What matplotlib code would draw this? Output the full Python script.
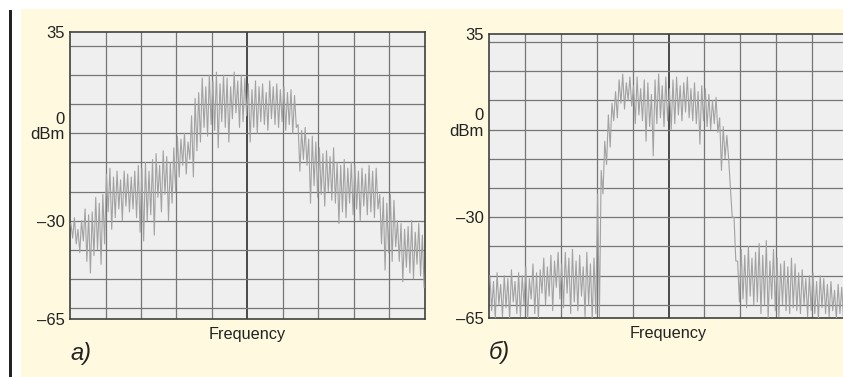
import matplotlib.pyplot as plt
from matplotlib.patches import Rectangle

plt.rcParams['font.family'] = ['Liberation Sans', 'DejaVu Sans']

# trace, one column per 0.1 division: upper and lower edge (dBm)
hi_a = [-31, -29, -33, -30, -26, -28, -27, -22, -24, -21,
        -14, -12, -15, -13, -16, -13, -14, -15, -13, -11,
        -12, -10, -13, -9, -7, -11, -6, -8, -10, -5,
        -1, -2, 0, -3, 6, 12, 14, 19, 16, 20,
        18, 21, 17, 20, 19, 16, 21, 18, 20, 19,
        17, 15, 18, 16, 17, 14, 18, 16, 17, 15,
        16, 14, 15, 13, 3, 1, 2, -2, -1, -3,
        -5, -7, -6, -8, -5, -10, -11, -9, -12, -10,
        -11, -13, -12, -14, -11, -13, -12, -21, -22, -24,
        -21, -23, -30, -31, -33, -32, -30, -34, -31, -35]
lo_a = [-36, -38, -41, -37, -44, -48, -42, -40, -45, -38,
        -27, -33, -29, -26, -30, -25, -27, -26, -29, -34,
        -37, -30, -28, -35, -22, -27, -21, -30, -24, -20,
        -15, -11, -14, -9, -15, -6, -3, 2, -1, 3,
        1, -5, 4, 2, -3, 5, 7, 2, 4, 6,
        -3, 2, 0, 4, 3, 1, 5, 3, 2, 4,
        1, 3, 0, 2, -13, -9, -11, -24, -18, -22,
        -21, -25, -20, -23, -24, -31, -27, -29, -24, -28,
        -26, -30, -25, -28, -27, -29, -26, -38, -47, -41,
        -44, -39, -44, -51, -46, -48, -50, -45, -49, -53]

hi_b = [-50, -52, -49, -53, -50, -51, -48, -52, -49, -50,
        -47, -51, -46, -49, -48, -44, -47, -43, -45, -42,
        -46, -42, -44, -41, -45, -43, -47, -42, -46, -44,
        -22, -14, -4, 5, 9, 13, 17, 19, 16, 18,
        15, 18, 14, 17, 16, 12, 17, 19, 15, 18,
        14, 17, 18, 15, 16, 18, 14, 16, 13, 15,
        14, 12, 10, 11, 4, 1, -2, -20, -30, -45,
        -41, -43, -40, -44, -42, -39, -43, -38, -45, -41,
        -44, -46, -45, -47, -44, -46, -49, -48, -51, -50,
        -49, -52, -50, -51, -53, -52, -55, -53, -54, -56]
lo_b = [-62, -65, -60, -64, -61, -65, -59, -63, -64, -60,
        -65, -58, -63, -65, -56, -60, -57, -62, -54, -58,
        -61, -56, -63, -59, -62, -57, -64, -60, -65, -63,
        -64, -22, -12, -6, 3, 4, 9, 7, 10, 8,
        2, 5, 3, -4, 1, -9, 2, 4, 1, 3,
        0, 2, 5, 3, 6, 4, 3, 2, -5, 3,
        1, 0, 2, -1, -14, -10, -10, -30, -45, -59,
        -58, -61, -57, -60, -59, -63, -60, -65, -58, -62,
        -64, -60, -62, -63, -61, -62, -63, -60, -64, -62,
        -63, -65, -61, -63, -64, -62, -65, -63, -65, -64]

grid_db = [30, 20, 10, 0, -10, -20, -30, -40, -50, -60]
tick_labels = ['35', 'dBm', '\u201330', '\u201365']
panels = [
    # (hi, lo, ylim, axes rect, caption)
    (hi_a, lo_a, (-63.8, 34.8), [70 / 843, 1 - 319 / 377, 355 / 843, 287 / 377], '\u0430)'),
    (hi_b, lo_b, (-64.5, 32.7), [489 / 843, 1 - 318 / 377, 359 / 843, 284 / 377], '\u0431)'),
]

fig = plt.figure(figsize=(8.43, 3.77), dpi=100, facecolor='white')
fig.patches.append(Rectangle((21 / 843, 0), 1, 1 - 9 / 377, transform=fig.transFigure,
                             facecolor='#fffadf', edgecolor='none', zorder=-2))
fig.patches.append(Rectangle((9 / 843, 0), 2.5 / 843, 1 - 10 / 377, transform=fig.transFigure,
                             facecolor='#222222', edgecolor='none', zorder=-1))

for hi, lo, ylim, rect, caption in panels:
    ax = fig.add_axes(rect)
    ax.set_facecolor('#efefef')
    xs, ys = [], []
    for i in range(len(hi)):
        xs += [i * 0.1 + 0.025, i * 0.1 + 0.075]
        ys += [hi[i], lo[i]]
    ax.plot(xs, ys, color='#a2a2a2', lw=0.8, zorder=3)

    ax.set_xlim(0, 10)
    ax.set_ylim(*ylim)
    for v in range(1, 10):
        ax.axvline(v, color='#3c3c3c' if v == 5 else '#767676',
                   lw=1.3 if v == 5 else 0.9, zorder=2)
    for g in grid_db:
        ax.axhline(g, color='#767676', lw=0.9, zorder=2)

    ax.set_xticks([])
    ax.set_yticks([ylim[1], 0, -30, ylim[0]])
    ax.set_yticklabels(tick_labels)
    ax.tick_params(axis='y', length=0, pad=4, labelsize=12, labelcolor='#222222')
    ax.annotate('0', xy=(0, 0), xycoords=('axes fraction', 'data'), xytext=(-4, 10),
                textcoords='offset points', ha='right', va='center',
                fontsize=12, color='#222222')
    ax.set_xlabel('Frequency', fontsize=11.7, color='#222222', labelpad=6)
    for s in ax.spines.values():
        s.set_color('#404040')
        s.set_linewidth(1.2)
    ax.text(0, -0.12, caption, transform=ax.transAxes, ha='left', va='center',
            fontsize=17, style='italic', color='#222222')

fig.savefig('out.png', dpi=100, facecolor=fig.get_facecolor())
